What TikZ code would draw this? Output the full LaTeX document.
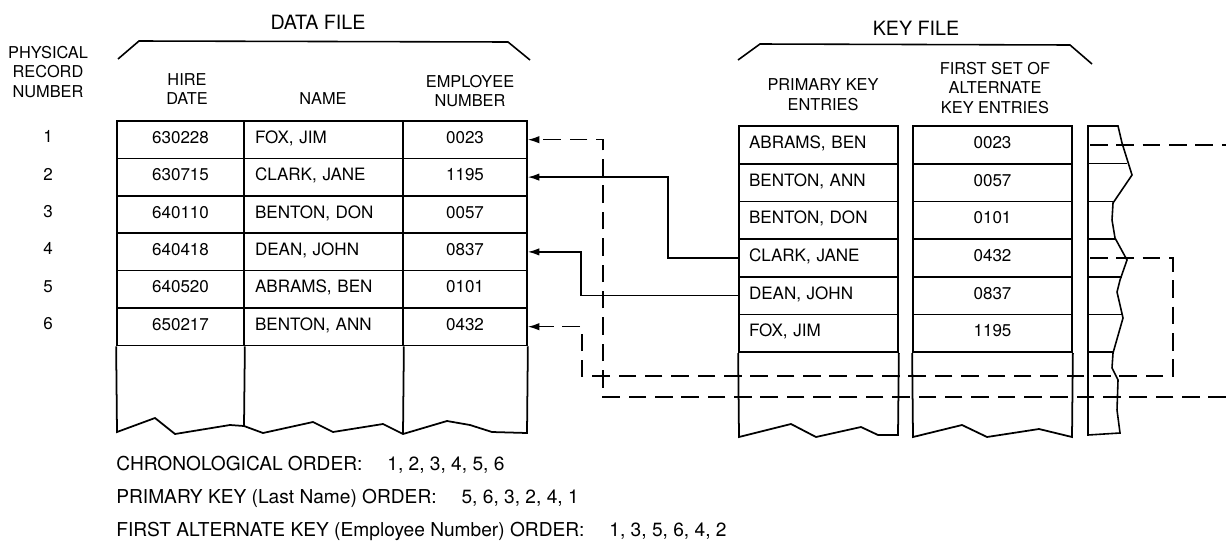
\documentclass[tikz,border=0pt]{standalone}
\usepackage{fontspec}
\setmainfont{TeX Gyre Heros}
\usetikzlibrary{arrows.meta}

\newcommand{\cellfont}{\fontsize{9.7}{11.5}\selectfont}
\newcommand{\headfont}{\fontsize{9.3}{11.2}\selectfont}
\newcommand{\titlefont}{\fontsize{11.2}{13}\selectfont}
\newcommand{\notefont}{\fontsize{10.9}{13}\selectfont}

\begin{document}
\begin{tikzpicture}[x=0.02cm,y=-0.02cm,
    cell/.style={draw,line width=1pt,minimum height=0.748cm,text height=7pt,text depth=3pt,inner sep=0pt,font=\cellfont},
    datecell/.style={cell,minimum width=2.54cm},
    namecell/.style={cell,text width=2.74cm,inner xsep=0.22cm,align=left},
    numcell/.style={cell,minimum width=2.48cm},
    keycell/.style={cell,minimum height=0.754cm,text width=2.78cm,inner xsep=0.2cm,align=left},
    altcell/.style={cell,minimum height=0.754cm,minimum width=3.18cm},
    rowlabel/.style={inner sep=0pt,font=\cellfont},
    head/.style={align=center,inner sep=0pt,font=\headfont},
    title/.style={inner sep=0pt,font=\titlefont},
    note/.style={anchor=west,inner sep=0pt,font=\notefont},
    link/.style={line width=0.8pt,-{Latex[length=6.5pt,width=4.2pt]}},
    dashline/.style={line width=0.8pt,dash pattern=on 10pt off 5pt}]
    \useasboundingbox (0,0) rectangle (1226,558);
    %
    % titles and brackets
    \node[title] (datatitle) at (318,22) {DATA FILE};
    \node[title] (keytitle) at (916,28) {KEY FILE};
    \draw[line width=0.9pt] (118,59) -- (139,41) -- (508,42) -- (530,60);
    \draw[line width=0.9pt] (738,60) -- (760,44) -- (1070,45) -- (1092,64);
    %
    \node[head] (physhead) at (48,72) {PHYSICAL\\RECORD\\NUMBER};
    \node[head] (hirehead) at (187,89) {HIRE\\DATE};
    \node[head] (namehead) at (323,99) {NAME};
    \node[head] (emphead) at (470,91) {EMPLOYEE\\NUMBER};
    \node[head] (pkhead) at (823,95) {PRIMARY KEY\\ENTRIES};
    \node[head] (akhead) at (995,88) {FIRST SET OF\\ALTERNATE\\KEY ENTRIES};
    %
    % data file
    \foreach \dt/\nm/\en [count=\i] in {630228/{FOX, JIM}/0023, 630715/{CLARK, JANE}/1195,
        640110/{BENTON, DON}/0057, 640418/{DEAN, JOHN}/0837,
        640520/{ABRAMS, BEN}/0101, 650217/{BENTON, ANN}/0432}{
        \pgfmathsetmacro{\yy}{139.7+37.4*(\i-1)}
        \node[rowlabel] (rec\i) at (48,\yy-3) {\i};
        \node[datecell] (hire\i) at (180.5,\yy) {\dt};
        \node[namecell] (name\i) at (323.5,\yy) {\nm};
        \node[numcell] (emp\i) at (465,\yy) {\en};
    }
    \draw[line width=1pt] (hire6.south west) -- (117,432) -- (155,418) -- (175,434) -- (230,425)
        -- (244,426) -- (263,433) -- (313,422) -- (333,432) -- (383,424) -- (403,434)
        -- (447,421) -- (470,425) -- (492,432) -- (527,433) -- (emp6.south east);
    \draw[line width=1pt] (hire6.south east) -- (244,426);
    \draw[line width=1pt] (name6.south east) -- (403,434);
    %
    % key file
    \foreach \nm/\en [count=\i] in {{ABRAMS, BEN}/0023, {BENTON, ANN}/0057, {BENTON, DON}/0101,
        {CLARK, JANE}/0432, {DEAN, JOHN}/0837, {FOX, JIM}/1195}{
        \pgfmathsetmacro{\yy}{144.85+37.7*(\i-1)}
        \node[keycell] (pk\i) at (818.5,\yy) {\nm};
        \node[altcell] (ak\i) at (992.5,\yy) {\en};
        \coordinate (st\i) at (1090,\yy);
    }
    \draw[line width=1pt] (pk6.south west) -- (739,437) -- (791,424) -- (816,437) -- (861,427)
        -- (878,435) -- (898,435) -- (pk6.south east);
    \draw[line width=1pt] (ak6.south west) -- (913,437) -- (962,425) -- (987,437) -- (1039,429)
        -- (1072,437) -- (ak6.south east);
    %
    % torn strip of the next key set
    \draw[line width=0.9pt] (1088,126) -- (1118,126) -- (1122,143) -- (1132,175) -- (1113,203)
        -- (1112,220) -- (1115,238) -- (1127,260) -- (1120,280) -- (1117,292) -- (1123,318)
        -- (1113,353) -- (1112,368) -- (1118,380) -- (1117,410) -- (1120,433) -- (1088,435) -- cycle;
    \foreach \y/\x in {163.7/1127, 201.4/1115, 239.1/1115, 276.8/1122, 314.5/1122, 352.2/1113}
        \draw[line width=0.9pt] (1088,\y) -- (\x,\y);
    %
    % pointers
    \coordinate (off1) at (1226,144.85);
    \coordinate (off2) at (1226,397);
    \draw[link] (pk4.west) -- ++(-70,0) |- (emp2.east);
    \draw[link] (pk5.west) -- ++(-157,0) |- (emp4.east);
    \draw[dashline] (st1) -- (off1);
    \draw[dashline,link] (off2) -- ++(-623,0) |- (emp1.east);
    \draw[dashline,link] (st4) -- ++(83,0) |- (582,376) |- (emp6.east);
    %
    % orders
    \node[note] (chron) at (116,465) {CHRONOLOGICAL ORDER:\hspace{1.3em}1, 2, 3, 4, 5, 6};
    \node[note] (prim) at (116,498) {PRIMARY KEY (Last Name) ORDER:\hspace{1.3em}5, 6, 3, 2, 4, 1};
    \node[note] (alt) at (116,531) {FIRST ALTERNATE KEY (Employee Number) ORDER:\hspace{1.3em}1, 3, 5, 6, 4, 2};
\end{tikzpicture}
\end{document}
